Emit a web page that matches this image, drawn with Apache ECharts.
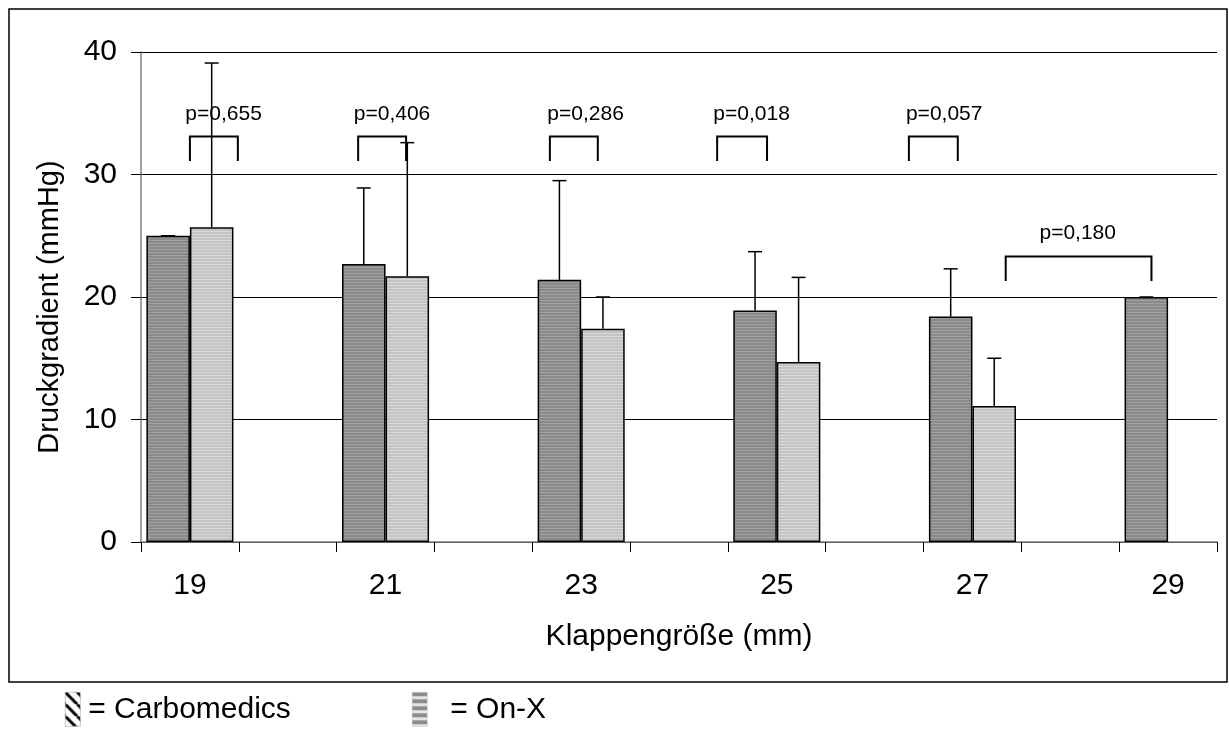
<!DOCTYPE html>
<html>
<head>
<meta charset="utf-8">
<script src="https://cdn.jsdelivr.net/npm/echarts@6/dist/echarts.min.js"></script>
<style>
  html, body { margin: 0; padding: 0; background: #fff; }
  #chart { width: 1229px; height: 736px; }
</style>
</head>
<body>
<div id="chart"></div>
<script>
// Klappengrößen (jede Größe 19..29, nur ungerade beschriftet)
const categories = ['19', '20', '21', '22', '23', '24', '25', '26', '27', '28', '29'];
// Mittelwerte Druckgradient (mmHg)
const carboMean = [25.0, null, 22.7, null, 21.4, null, 18.9, null, 18.4, null, 20.0];
const onxMean   = [25.7, null, 21.7, null, 17.4, null, 14.7, null, 11.1, null, null];
// Standardabweichung (obere Fehlerbalken)
const carboSd = [0, null, 6.2, null, 8.1, null, 4.8, null, 3.9, null, 0];
const onxSd   = [13.4, null, 10.9, null, 2.6, null, 6.9, null, 3.9, null, null];
// p-Werte
const pLabels = ['p=0,655', 'p=0,406', 'p=0,286', 'p=0,018', 'p=0,057', 'p=0,180'];

// Lage der Klammern (in Kategorie-Einheiten / mmHg), von Hand gesetzt wie im Original
const bracketLayout = [
  { x0: 0.50, x1: 0.99, top: 33.1, foot: 31.1, tx: 0.844, ty: 34.9 },
  { x0: 2.22, x1: 2.71, top: 33.1, foot: 31.1, tx: 2.566, ty: 34.9 },
  { x0: 4.18, x1: 4.67, top: 33.1, foot: 31.1, tx: 4.545, ty: 34.9 },
  { x0: 5.89, x1: 6.40, top: 33.1, foot: 31.1, tx: 6.242, ty: 34.9 },
  { x0: 7.85, x1: 8.35, top: 33.1, foot: 31.1, tx: 8.211, ty: 34.9 },
  { x0: 8.84, x1: 10.33, top: 23.3, foot: 21.3, tx: 9.576, ty: 25.2 }
];

const FONT = 'Arial, "Liberation Sans", sans-serif';
const BAR_FRAC = 0.445;

// Füllmuster (feine waagerechte Streifen)
function stripes(base, light, w, h, lightRows) {
  const c = document.createElement('canvas');
  c.width = w; c.height = h;
  const ctx = c.getContext('2d');
  ctx.fillStyle = base;
  ctx.fillRect(0, 0, w, h);
  ctx.fillStyle = light;
  lightRows.forEach(function (r) { ctx.fillRect(0, r[0], w, r[1]); });
  return { image: c, repeat: 'repeat' };
}
function diagonal() {
  const c = document.createElement('canvas');
  c.width = 12; c.height = 12;
  const ctx = c.getContext('2d');
  ctx.fillStyle = '#fff';
  ctx.fillRect(0, 0, 12, 12);
  ctx.strokeStyle = '#000';
  ctx.lineWidth = 3;
  [-12, 0, 12].forEach(function (o) {
    ctx.beginPath();
    ctx.moveTo(o, 0);
    ctx.lineTo(o + 12, 12);
    ctx.stroke();
  });
  return { image: c, repeat: 'repeat' };
}

const darkFill = stripes('#8a8a8a', '#a0a0a0', 4, 3, [[0, 1]]);
const lightFill = stripes('#c4c4c4', '#d8d8d8', 4, 3, [[0, 1]]);
const legendOnx = stripes('#8c8c8c', '#e4e4e4', 4, 7, [[4, 3]]);

const errData = [];
categories.forEach(function (c, i) {
  if (carboMean[i] != null) errData.push([i, carboMean[i], carboMean[i] + carboSd[i], -1]);
  if (onxMean[i] != null) errData.push([i, onxMean[i], onxMean[i] + onxSd[i], 1]);
});

const bracketData = bracketLayout.map(function (b, i) {
  return [b.x0, b.x1, b.top, b.foot, b.tx, b.ty, i];
});

const chart = echarts.init(document.getElementById('chart'));
chart.setOption({
  backgroundColor: '#fff',
  animation: false,
  textStyle: { fontFamily: FONT },
  graphic: [{
    type: 'rect',
    shape: { x: 9, y: 9, width: 1218, height: 673 },
    style: { fill: 'none', stroke: '#000', lineWidth: 1.5 },
    silent: true,
    z: -1
  }],
  grid: { left: 141, right: 12, top: 52, bottom: 194 },
  legend: [
    {
      data: [{ name: 'Carbomedics', icon: 'rect', itemStyle: { color: diagonal(), borderColor: '#888', borderWidth: 0.5 } }],
      left: 65, top: 692, padding: 0, itemWidth: 15, itemHeight: 34,
      selectedMode: false,
      formatter: '= {name}',
      textStyle: { fontSize: 30, color: '#000', fontFamily: FONT, padding: [0, 0, 0, 3] }
    },
    {
      data: [{ name: 'On-X', icon: 'rect', itemStyle: { color: legendOnx, borderColor: '#bbb', borderWidth: 0.5 } }],
      left: 412, top: 692, padding: 0, itemWidth: 15, itemHeight: 34,
      selectedMode: false,
      formatter: '= {name}',
      textStyle: { fontSize: 30, color: '#000', fontFamily: FONT, padding: [0, 0, 0, 18] }
    }
  ],
  xAxis: [
    {
      type: 'category',
      data: categories,
      boundaryGap: true,
      name: 'Klappengröße (mm)',
      nameLocation: 'middle',
      nameGap: 80,
      nameTextStyle: { fontSize: 30, color: '#000', fontFamily: FONT },
      axisLine: { lineStyle: { color: '#808080', width: 1.5 } },
      axisTick: { show: true, interval: 0, length: 10, lineStyle: { color: '#000' } },
      axisLabel: { interval: 1, margin: 29, fontSize: 30, color: '#000', fontFamily: FONT },
      splitLine: { show: false }
    },
    { type: 'value', min: 0, max: 11, show: false }
  ],
  yAxis: {
    type: 'value',
    min: 0, max: 40, interval: 10,
    name: 'Druckgradient (mmHg)',
    nameLocation: 'middle',
    nameGap: 77,
    nameTextStyle: { fontSize: 29, color: '#000', fontFamily: FONT, padding: [0, 20, 0, 0] },
    axisLine: { show: true, lineStyle: { color: '#808080', width: 1.5 } },
    axisTick: { show: true, length: 10, lineStyle: { color: '#000' } },
    axisLabel: { margin: 24, fontSize: 30, color: '#000', fontFamily: FONT },
    splitLine: { show: true, lineStyle: { color: '#000', width: 1 } }
  },
  series: [
    {
      name: 'Carbomedics', type: 'bar', data: carboMean,
      barWidth: (BAR_FRAC * 100) + '%', barGap: '0%',
      itemStyle: { color: darkFill, borderColor: '#000', borderWidth: 1.5 }
    },
    {
      name: 'On-X', type: 'bar', data: onxMean,
      barWidth: (BAR_FRAC * 100) + '%', barGap: '0%',
      itemStyle: { color: lightFill, borderColor: '#000', borderWidth: 1.5 }
    },
    {
      name: 'sd', type: 'custom', data: errData, z: 5,
      renderItem: function (params, api) {
        const band = api.size([1, 0])[0];
        const off = api.value(3) * band * BAR_FRAC / 2;
        const base = api.coord([api.value(0), api.value(1)]);
        const top = api.coord([api.value(0), api.value(2)]);
        const x = base[0] + off;
        const half = 7;
        return {
          type: 'group',
          children: [
            { type: 'line', shape: { x1: x, y1: base[1], x2: x, y2: top[1] }, style: { stroke: '#000', lineWidth: 1.5 } },
            { type: 'line', shape: { x1: x - half, y1: top[1], x2: x + half, y2: top[1] }, style: { stroke: '#000', lineWidth: 1.5 } }
          ]
        };
      }
    },
    {
      name: 'p', type: 'custom', xAxisIndex: 1, data: bracketData, z: 6,
      renderItem: function (params, api) {
        const a = api.coord([api.value(0), api.value(2)]);
        const b = api.coord([api.value(1), api.value(2)]);
        const foot = api.coord([api.value(0), api.value(3)])[1];
        const t = api.coord([api.value(4), api.value(5)]);
        return {
          type: 'group',
          children: [
            {
              type: 'polyline',
              shape: { points: [[a[0], foot], [a[0], a[1]], [b[0], b[1]], [b[0], foot]] },
              style: { stroke: '#000', lineWidth: 2, fill: null }
            },
            {
              type: 'text',
              x: t[0], y: t[1],
              style: {
                text: pLabels[api.value(6)],
                font: '21px ' + FONT,
                fill: '#000',
                align: 'center',
                verticalAlign: 'middle'
              }
            }
          ]
        };
      }
    }
  ]
});
</script>
</body>
</html>
